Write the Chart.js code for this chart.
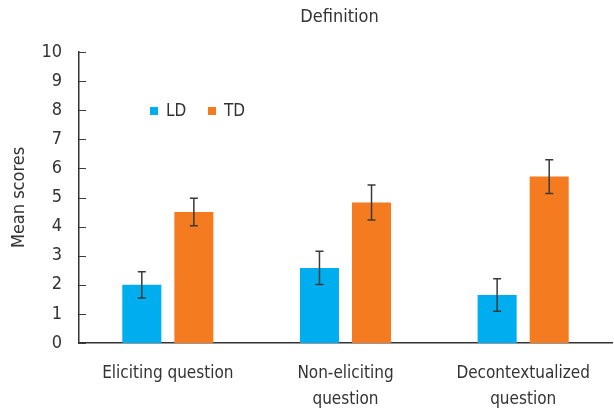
<!DOCTYPE html>
<html>
<head>
<meta charset="utf-8">
<script src="https://cdn.jsdelivr.net/npm/chart.js@4.4.0/dist/chart.umd.min.js"></script>
<style>
    html, body { margin: 0; padding: 0; background: #fff; }
    #wrap { width: 614px; height: 412px; position: relative; }
</style>
</head>
<body>
<div id="wrap"><canvas id="defChart" width="614" height="412"></canvas></div>
<script>
// Data
const categories = [['Eliciting question'], ['Non-eliciting', 'question'], ['Decontextualized', 'question']];
const ldMeans = [2.0, 2.58, 1.65];
const ldErrors = [0.45, 0.57, 0.56];
const tdMeans = [4.5, 4.83, 5.72];
const tdErrors = [0.47, 0.6, 0.58];
const yTicks = [0, 1, 2, 3, 4, 5, 6, 7, 8, 9, 10];

const FONT = "'Liberation Sans Narrow', 'DejaVu Sans Condensed', 'Noto Sans', sans-serif";
const TEXT = '#333333';

// error bars drawn through the value scale
const errorBarPlugin = {
    id: 'errorBars',
    afterDatasetsDraw(chart) {
        const ctx = chart.ctx;
        const yScale = chart.scales.y;
        ctx.save();
        ctx.strokeStyle = '#3a3a3a';
        ctx.lineWidth = 1.5;
        chart.data.datasets.forEach((ds, i) => {
            const meta = chart.getDatasetMeta(i);
            meta.data.forEach((bar, j) => {
                const err = ds.errors[j];
                const top = yScale.getPixelForValue(ds.data[j] + err);
                const bot = yScale.getPixelForValue(ds.data[j] - err);
                ctx.beginPath();
                ctx.moveTo(bar.x, top); ctx.lineTo(bar.x, bot);
                ctx.moveTo(bar.x - 4, top); ctx.lineTo(bar.x + 4, top);
                ctx.moveTo(bar.x - 4, bot); ctx.lineTo(bar.x + 4, bot);
                ctx.stroke();
            });
        });
        ctx.restore();
    }
};

// inward tick marks, title and the small legend inside the plot
const decorPlugin = {
    id: 'decor',
    afterDraw(chart) {
        const ctx = chart.ctx;
        const area = chart.chartArea;
        const yScale = chart.scales.y;
        ctx.save();
        ctx.strokeStyle = '#3a3a3a';
        ctx.lineWidth = 1;
        yScale.ticks.forEach(t => {
            const py = Math.round(yScale.getPixelForValue(t.value)) + 0.5;
            ctx.beginPath();
            ctx.moveTo(area.left, py);
            ctx.lineTo(area.left + 7, py);
            ctx.stroke();
        });

        ctx.fillStyle = TEXT;
        ctx.font = '18px ' + FONT;
        ctx.textAlign = 'center';
        ctx.textBaseline = 'middle';
        ctx.fillText('Definition', (area.left + area.right) / 2 - 6, 17);

        // legend
        const lx = 150, ly = 111;
        ctx.font = '17px ' + FONT;
        ctx.textAlign = 'left';
        chart.data.datasets.forEach((ds, i) => {
            const x = lx + i * 58;
            ctx.fillStyle = ds.backgroundColor;
            ctx.fillRect(x, ly - 4, 8, 8);
            ctx.fillStyle = TEXT;
            ctx.fillText(ds.label, x + 16, ly + 1);
        });
        ctx.restore();
    }
};

new Chart(document.getElementById('defChart'), {
    type: 'bar',
    data: {
        labels: categories,
        datasets: [
            { label: 'LD', data: ldMeans, errors: ldErrors, backgroundColor: '#00AEEF' },
            { label: 'TD', data: tdMeans, errors: tdErrors, backgroundColor: '#F47B20' }
        ]
    },
    options: {
        responsive: false,
        devicePixelRatio: 1,
        animation: false,
        layout: { padding: { top: 52, right: 2, left: 0, bottom: 0 } },
        datasets: { bar: { categoryPercentage: 0.586, barPercentage: 0.75 } },
        plugins: {
            legend: { display: false },
            title: { display: false },
            tooltip: { enabled: false }
        },
        scales: {
            x: {
                z: 1,
                grid: { display: false, drawTicks: false },
                border: { display: true, color: '#333', width: 1.5 },
                ticks: {
                    color: TEXT,
                    padding: 18,
                    maxRotation: 0,
                    autoSkip: false,
                    font: { family: FONT, size: 17, lineHeight: '26px' }
                },
                afterFit(scale) { scale.height = 69; }
            },
            y: {
                min: 0,
                max: 10,
                afterBuildTicks(scale) { scale.ticks = yTicks.map(v => ({ value: v })); },
                grid: { display: false, drawTicks: false },
                border: { display: true, color: '#333', width: 1.5 },
                ticks: {
                    color: TEXT,
                    padding: 17,
                    font: { family: FONT, size: 18 }
                },
                title: {
                    display: true,
                    text: 'Mean scores',
                    color: TEXT,
                    padding: { top: 9, bottom: 0 },
                    font: { family: FONT, size: 18 }
                },
                afterFit(scale) { scale.width = 79; }
            }
        }
    },
    plugins: [errorBarPlugin, decorPlugin]
});
</script>
</body>
</html>
